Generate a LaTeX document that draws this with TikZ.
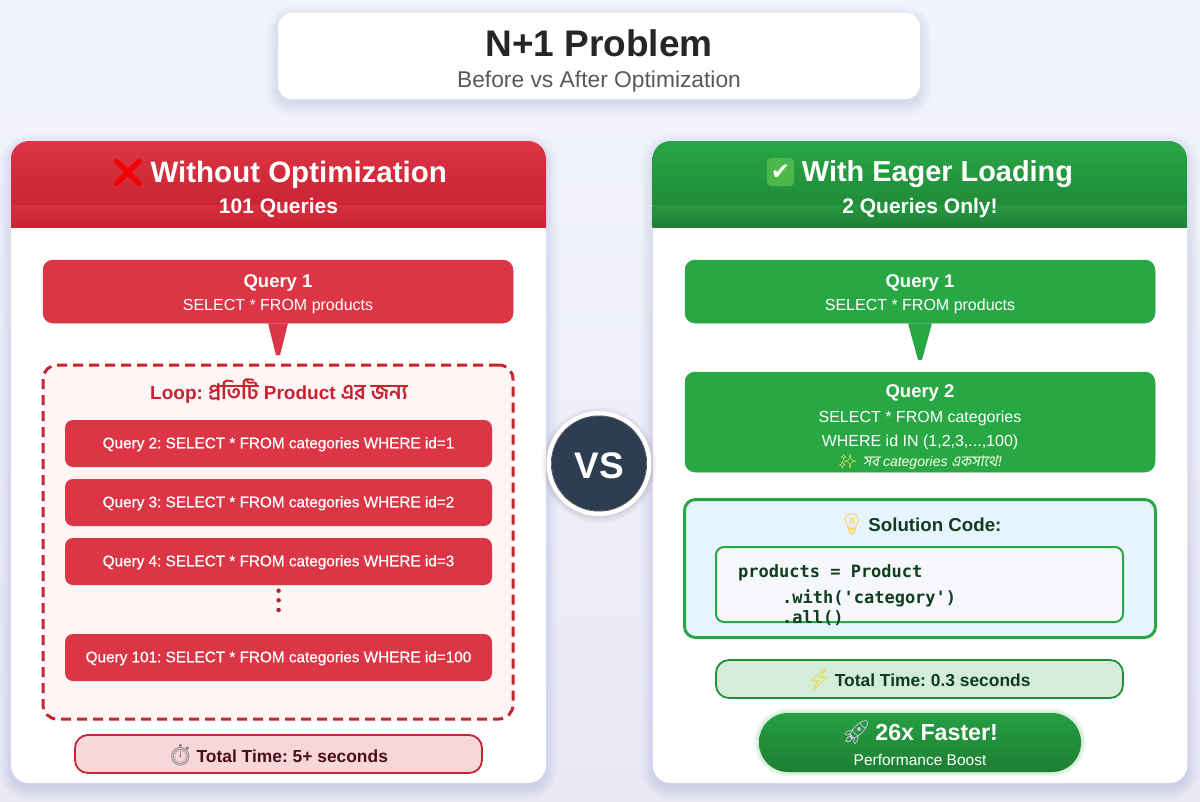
\documentclass[tikz,border=0pt]{standalone}
\usepackage{fontspec}
\setmainfont{Liberation Sans}
\newfontfamily\medf[FakeBold=0.7]{Liberation Sans}
\newfontfamily\bnf[Script=Bengali,Scale=1.12]{Hind Siliguri}
\newfontfamily\bnit[Script=Bengali,FakeSlant=0.2,Scale=1.05]{Hind Siliguri}
\newfontfamily\emo{Noto Emoji}
\newfontfamily\codef{DejaVu Sans Mono}
\newfontfamily\symf{DejaVu Sans}
\usetikzlibrary{calc}
\definecolor{redA}{HTML}{DC3545}
\definecolor{redB}{HTML}{C82333}
\definecolor{grnA}{HTML}{28A745}
\definecolor{grnB}{HTML}{1E7E34}
\definecolor{darkred}{HTML}{4A0E1A}
\definecolor{darkgrn}{HTML}{0F3D1E}
\definecolor{navy}{HTML}{2C3E50}
\definecolor{bgtop}{HTML}{F2F4FB}
\definecolor{bgbot}{HTML}{E9E9F6}
\definecolor{shadowc}{HTML}{50508C}
\definecolor{solfill}{HTML}{E8F4FD}
\definecolor{codefill}{HTML}{F6F8FB}
\definecolor{timegrn}{HTML}{D4EDDA}
\definecolor{timered}{HTML}{F8D7DA}
\definecolor{chkgrn}{HTML}{4DB84A}
\newcommand{\softshadow}[5]{%
  \foreach \i in {1,...,12}{%
    \fill[shadowc,opacity=0.008,rounded corners=#5+\i]
      (#1-\i,#2-\i+5) rectangle (#3+\i,#4+\i+5);
  }}
\tikzset{
  lbl/.style={inner sep=0pt,anchor=center,align=center},
  boxbase/.style={inner sep=0pt,rounded corners=#1},
  boxbase/.default=8,
  redq/.style={boxbase=10,fill=redA,draw=redA,line width=0.5pt},
  grnq/.style={boxbase=10,fill=grnA,draw=grnA,line width=0.5pt},
  card/.style={boxbase=18,fill=white},
  timebox/.style={boxbase=13,line width=1.8pt},
}
\begin{document}
\frenchspacing
\begin{tikzpicture}[x=1pt,y=-1pt]
\useasboundingbox (0,0) rectangle (1200,801);
\shade[top color=bgtop,bottom color=bgbot] (0,0) rectangle (1200,801);
% title
\softshadow{278}{13}{920}{99}{14}
\node[boxbase=14,fill=white,minimum width=642,minimum height=86] (title) at (599,56) {};
\node[lbl,font=\bfseries\fontsize{37}{40}\selectfont,text=black!85] (t1) at (599,43) {N+1 Problem};
\node[lbl,font=\fontsize{22.8}{26}\selectfont,text=black!65] (t2) at (599,82) {Before vs After Optimization};
% left card
\softshadow{11}{141}{546}{783}{18}
\node[card,minimum width=535,minimum height=642] (lc) at (278.5,462) {};
\shade[top color=redA,bottom color=redB!90!redA] (11,205.5) [rounded corners=18] -- (11,141) -- (546,141) [sharp corners] -- (546,205.5) -- cycle;
\shade[top color=redA!70!redB,bottom color=redB] (11,205) rectangle (546,227);
\node[lbl,font=\bfseries\fontsize{29.5}{34}\selectfont,text=white] (lh1) at (278.5,174) {{\emo\color{red!95!black}\fontsize{28}{30}\selectfont ❌}\,Without Optimization};
\node[lbl,font=\bfseries\fontsize{21}{24}\selectfont,text=white] (lh2) at (278.5,208) {101 Queries};
\node[redq,minimum width=470,minimum height=63] (lq1) at (278,291.5) {};
\node[lbl,font=\bfseries\fontsize{18.5}{20}\selectfont,text=white] (lq1a) at (278,283) {Query 1};
\node[lbl,font=\fontsize{16}{18}\selectfont,text=white] (lq1b) at (278,306) {SELECT * FROM products};
% loop
\node[boxbase=14,fill=red!4!white,draw=redB,line width=3pt,dash pattern=on 10pt off 6pt,minimum width=470,minimum height=354] (loop) at (278,542) {};
\coordinate (ltip) at (278,355);
\fill[redA] ([xshift=-10pt]lq1.south) -- ([xshift=10pt]lq1.south) -- ([xshift=2pt]ltip) -- ([xshift=-2pt]ltip) -- cycle;
\node[lbl,font=\bfseries\fontsize{19}{22}\selectfont,text=redB] (looplbl) at (279,391) {Loop: {\bnf প্রতিটি} Product {\bnf এর জন্য}};
\foreach \nm/\yy/\tx in {q2/443.5/Query 2: SELECT * FROM categories WHERE id=1,q3/502.5/Query 3: SELECT * FROM categories WHERE id=2,q4/561.5/Query 4: SELECT * FROM categories WHERE id=3,q101/657.5/Query 101: SELECT * FROM categories WHERE id=100}{
  \node[boxbase=8,fill=redA,minimum width=427,minimum height=47] (\nm) at (278.5,\yy) {};
  \node[lbl,font=\medf\fontsize{15.3}{17}\selectfont,text=white] (\nm t) at (278.5,\yy+0.8) {\tx};
}
\foreach \nm/\yy in {da/590.7,db/600.3,dc/610}{
  \node[circle,fill=redB!90!black,minimum size=4.5pt,inner sep=0pt] (\nm) at (278.6,\yy) {};
}
\node[timebox,fill=timered,draw=redB,minimum width=407,minimum height=38] (ltime) at (278.5,754) {};
\node[lbl,font=\bfseries\fontsize{17.4}{20}\selectfont,text=darkred] (ltimet) at (277.5,755.5) {{\emo\color{gray}\fontsize{21}{20}\selectfont ⏱}\,Total Time: 5+ seconds};
% right card
\softshadow{653}{141}{1187}{783}{18}
\node[card,minimum width=534.5,minimum height=642] (rc) at (920,462) {};
\shade[top color=grnA,bottom color=grnB!70!grnA] (652.5,205.5) [rounded corners=18] -- (652.5,141) -- (1187,141) [sharp corners] -- (1187,205.5) -- cycle;
\shade[top color=grnA!65!grnB,bottom color=grnB] (652.5,205) rectangle (1187,227);
\node[boxbase=4,fill=chkgrn,minimum width=27,minimum height=28] (chk) at (780.5,172) {};
\node[lbl,font=\fontsize{23}{26}\selectfont,text=white] (chkt) at (780.5,172) {\symf ✔};
\node[lbl,font=\bfseries\fontsize{28.9}{34}\selectfont,text=white] (rh1) at (937.5,174.5) {With Eager Loading};
\node[lbl,font=\bfseries\fontsize{21}{24}\selectfont,text=white] (rh2) at (920,208) {2 Queries Only!};
\node[grnq,minimum width=470,minimum height=63] (rq1) at (920,291.5) {};
\node[lbl,font=\bfseries\fontsize{18.5}{20}\selectfont,text=white] (rq1a) at (920,283) {Query 1};
\node[lbl,font=\fontsize{16}{18}\selectfont,text=white] (rq1b) at (920,306) {SELECT * FROM products};
\node[grnq,minimum width=470,minimum height=100] (rq2) at (920,422) {};
\coordinate (rtip) at (920,360);
\fill[grnA] ([xshift=-12pt]rq1.south) -- ([xshift=12pt]rq1.south) -- ([xshift=2pt]rtip) -- ([xshift=-2pt]rtip) -- cycle;
\node[lbl,font=\bfseries\fontsize{18.5}{20}\selectfont,text=white] (rq2a) at (920,393) {Query 2};
\node[lbl,font=\fontsize{16}{18}\selectfont,text=white] (rq2b) at (920,418) {SELECT * FROM categories};
\node[lbl,font=\fontsize{16}{18}\selectfont,text=white] (rq2c) at (920,442) {WHERE id IN (1,2,3,...,100)};
\node[lbl,font=\itshape\fontsize{14}{16}\selectfont,text=white!90!yellow] (rq2d) at (920,462) {{\emo\color{yellow!90!orange!60!white}✨}\, {\bnit সব} categories {\bnit একসাথে!}};
% solution
\node[boxbase=11,fill=solfill,draw=grnA,line width=3pt,minimum width=471,minimum height=138] (sol) at (920,568.5) {};
\node[lbl,font=\bfseries\fontsize{18.7}{20}\selectfont,text=darkgrn] (solt) at (920,524.5) {{\emo\color{yellow!50!orange!70!white}\fontsize{21}{20}\selectfont 💡}\,Solution Code:};
\node[boxbase=8,fill=codefill,draw=grnA,line width=2pt,minimum width=407,minimum height=75] (code) at (919.5,584.5) {};
\node[lbl,anchor=west,font=\codef\bfseries\fontsize{17}{20}\selectfont,text=darkgrn] (c1) at (738,572.5) {products = Product};
\node[lbl,anchor=west,font=\codef\bfseries\fontsize{17}{20}\selectfont,text=darkgrn] (c2) at (782,598) {.with('category')};
\node[lbl,anchor=west,font=\codef\bfseries\fontsize{17}{20}\selectfont,text=darkgrn] (c3) at (782,618.5) {.all()};
% time
\node[timebox,fill=timegrn,draw=grnA!85!black,minimum width=407,minimum height=38] (rtime) at (919.5,679) {};
\node[lbl,font=\bfseries\fontsize{17.4}{20}\selectfont,text=darkgrn] (rtimet) at (918.5,680) {{\emo\color{yellow!70!orange}\fontsize{20}{20}\selectfont ⚡}\,Total Time: 0.3 seconds};
% boost
\foreach \i in {1,...,5}{
  \fill[grnA,opacity=0.045,rounded corners=29+\i] (759-\i,713-\i) rectangle (1081+\i,772+\i);
}
\node[boxbase=29,top color=grnA!95!black,bottom color=grnB,minimum width=322,minimum height=59] (boost) at (920,742.5) {};
\node[lbl,font=\bfseries\fontsize{23.2}{28}\selectfont,text=white] (boost1) at (919.5,733) {{\emo\color{blue!15!gray!40!white}\fontsize{24}{28}\selectfont 🚀}\,26x Faster!};
\node[lbl,font=\fontsize{15.5}{18}\selectfont,text=white] (boost2) at (920,760) {Performance Boost};
% vs
\foreach \i in {1,...,6}{
  \fill[black,opacity=0.015] (599,465) circle (52+\i);
}
\node[circle,fill=navy,draw=white,line width=5pt,minimum size=100pt,inner sep=0pt] (vs) at (599,463.5) {};
\draw[black!75,line width=0.6pt] (vs.center) circle (47.7);
\node[lbl,font=\bfseries\fontsize{37}{40}\selectfont,text=white] (vst) at (599,466) {VS};
\end{tikzpicture}
\end{document}
